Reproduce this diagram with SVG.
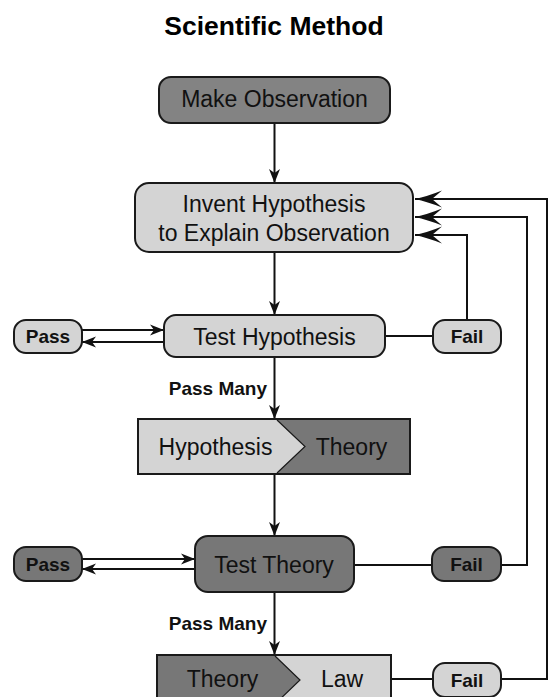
<svg xmlns="http://www.w3.org/2000/svg" width="549" height="697" viewBox="0 0 549 697">
<defs>
<style>
.box{stroke:#1a1a1a;stroke-width:2}
.light{fill:#d4d4d4}
.dark{fill:#777777}
.t{font-family:"Liberation Sans",Arial,Helvetica,sans-serif;font-size:23px;fill:#111;text-anchor:middle}
.b{font-family:"Liberation Sans",Arial,Helvetica,sans-serif;font-size:19px;font-weight:bold;fill:#111;text-anchor:middle}
.ttl{font-family:"Liberation Sans",Arial,Helvetica,sans-serif;font-size:26.5px;font-weight:bold;fill:#000;text-anchor:middle}
.c{fill:none;stroke:#111;stroke-width:2}
.sa{marker-end:url(#sm)}
.la{marker-end:url(#lg)}
</style>
<marker id="sm" markerUnits="userSpaceOnUse" markerWidth="20" markerHeight="14" viewBox="-15 -7 16 14" refX="0" refY="0" orient="auto">
<path d="M0,0 L-14,-5.5 L-10,0 L-14,5.5 Z" fill="#111"/>
</marker>
<marker id="lg" markerUnits="userSpaceOnUse" markerWidth="32" markerHeight="20" viewBox="-29 -10 30 20" refX="0" refY="0" orient="auto">
<path d="M0,0 Q-12,-2.5 -27,-8.5 L-17,0 L-27,8.5 Q-12,2.5 0,0 Z" fill="#111"/>
</marker>
</defs>
<rect width="549" height="697" fill="#fff"/>
<text class="ttl" x="274" y="35">Scientific Method</text>

<g id="connectors">
<line class="c sa" x1="274.5" y1="123" x2="274.5" y2="183"/>
<line class="c sa" x1="274.5" y1="252" x2="274.5" y2="315"/>
<line class="c sa" x1="82" y1="330" x2="164" y2="330"/>
<line class="c sa" x1="164" y1="342" x2="82" y2="342"/>
<line class="c" x1="385" y1="336" x2="433" y2="336"/>
<polyline class="c la" points="467,320 467,235 415,235"/>
<line class="c sa" x1="274.5" y1="357" x2="274.5" y2="419"/>
<line class="c sa" x1="274.5" y1="474" x2="274.5" y2="536"/>
<line class="c sa" x1="82" y1="559" x2="195" y2="559"/>
<line class="c sa" x1="195" y1="569" x2="82" y2="569"/>
<line class="c" x1="354" y1="565" x2="432" y2="565"/>
<polyline class="c la" points="501,565 527,565 527,217 415,217"/>
<line class="c sa" x1="274.5" y1="592" x2="274.5" y2="655"/>
<line class="c" x1="391" y1="679" x2="433" y2="679"/>
<polyline class="c la" points="501,679 547,679 547,199 415,199"/>
<text class="b" x="267" y="395" style="text-anchor:end">Pass Many</text>
<text class="b" x="267" y="630" style="text-anchor:end">Pass Many</text>
</g>

<g id="make-observation">
<rect class="box dark" x="159" y="77" width="231" height="46" rx="12" style="fill:#838383"/>
<text class="t" x="274.5" y="107">Make Observation</text>
</g>

<g id="invent-hypothesis">
<rect class="box light" x="135" y="183" width="278" height="69" rx="14"/>
<text class="t" x="274" y="212">Invent Hypothesis</text>
<text class="t" x="274" y="241">to Explain Observation</text>
</g>

<g id="test-hypothesis">
<rect class="box light" x="164" y="315" width="221" height="42" rx="12"/>
<text class="t" x="274.5" y="345">Test Hypothesis</text>
</g>

<g id="pass-1">
<rect class="box light" x="14" y="320" width="68" height="33" rx="12"/>
<text class="b" x="48" y="343">Pass</text>
</g>

<g id="fail-1">
<rect class="box light" x="433" y="320" width="68" height="33" rx="12"/>
<text class="b" x="467" y="343">Fail</text>
</g>

<g id="hypothesis-theory">
<rect class="box dark" x="138" y="419" width="272" height="55"/>
<path class="light" d="M139,420 L277,420 L305,446.5 L277,473 L139,473 Z"/>
<path d="M277,420 L305,446.5 L277,473" fill="none" stroke="#1a1a1a" stroke-width="1.2"/>
<text class="t" x="215.5" y="455">Hypothesis</text>
<text class="t" x="351.5" y="455">Theory</text>
</g>

<g id="test-theory">
<rect class="box dark" x="195" y="536" width="159" height="56" rx="13"/>
<text class="t" x="274" y="573">Test Theory</text>
</g>

<g id="pass-2">
<rect class="box dark" x="14" y="547" width="68" height="34" rx="12"/>
<text class="b" x="48" y="571">Pass</text>
</g>

<g id="fail-2">
<rect class="box dark" x="432" y="547" width="69" height="34" rx="12"/>
<text class="b" x="466.5" y="571">Fail</text>
</g>

<g id="theory-law">
<rect class="box light" x="157" y="655" width="234" height="55"/>
<path class="dark" d="M158,656 L275,656 L300,680 L275,704 L158,704 Z"/>
<path d="M275,656 L300,680 L275,704" fill="none" stroke="#1a1a1a" stroke-width="1.2"/>
<text class="t" x="222.5" y="687">Theory</text>
<text class="t" x="342" y="687">Law</text>
</g>

<g id="fail-3">
<rect class="box light" x="433" y="663" width="68" height="34" rx="12"/>
<text class="b" x="467" y="687">Fail</text>
</g>
</svg>
